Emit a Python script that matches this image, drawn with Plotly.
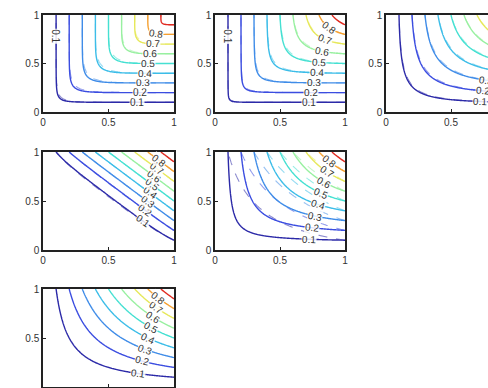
import numpy as np
import plotly.graph_objects as go

# ---- data ----
LEVELS = [0.1, 0.2, 0.3, 0.4, 0.5, 0.6, 0.7, 0.8, 0.9]
LABELLED = [0.1, 0.2, 0.3, 0.4, 0.5, 0.6, 0.7, 0.8]
LEVEL_COLORS = ["#2c2aa8", "#3b4de0", "#3f8ce8", "#3cbde8", "#45e0d2",
                "#98f0a0", "#e6e85a", "#f5a030", "#e02a20"]
FAMILIES = ["gumbel", "clayton", "frank", "frank", "clayton", "frank"]
THETA_MODEL = [5.0, 4.0, 3.0, -10.0, 0.6, 0.0]
THETA_EMP = [4.0, 3.5, 2.7, -9.0, -0.3, None]
TICKS = [0, 0.5, 1]
TICK_TEXT = ["0", "0.5", "1"]

# panel boxes in pixels: (left, right, top, bottom)
W, H = 488, 388
BOXES = [(43, 174, 15, 112), (215, 345, 15, 112), (386, 516, 15, 112),
         (43, 174, 152, 250), (215, 345, 152, 250),
         (43, 174, 289, 387)]

g = np.linspace(0, 1, 161)
U, V = np.meshgrid(g, g)


def copula(fam, th, u, v):
    u = np.clip(u, 1e-9, 1.0)
    v = np.clip(v, 1e-9, 1.0)
    if fam == "gumbel":
        return np.exp(-(((-np.log(u)) ** th + (-np.log(v)) ** th) ** (1.0 / th)))
    if fam == "clayton":
        if abs(th) < 1e-9:
            return u * v
        return np.maximum(u ** (-th) + v ** (-th) - 1.0, 1e-12) ** (-1.0 / th)
    if fam == "frank":
        if abs(th) < 1e-9:
            return u * v
        return -1.0 / th * np.log(1 + (np.exp(-th * u) - 1) * (np.exp(-th * v) - 1) / (np.exp(-th) - 1))
    return u * v


def on_level(fam, th, c, a, b, horizontal=None):
    """point of the level curve C=c on the line u = a + b*v (or v = horizontal)"""
    lo, hi = 0.0, 1.0
    for _ in range(60):
        m = 0.5 * (lo + hi)
        if horizontal is None:
            val = copula(fam, th, a + b * m, m)
        else:
            val = copula(fam, th, m, horizontal)
        if val < c:
            lo = m
        else:
            hi = m
    if horizontal is None:
        return a + b * lo, lo
    return lo, horizontal


def angle_at(fam, th, u, v, sx, sy):
    e = 1e-4
    cu = (copula(fam, th, min(u + e, 1), v) - copula(fam, th, max(u - e, 0), v)) / (2 * e)
    cv = (copula(fam, th, u, min(v + e, 1)) - copula(fam, th, u, max(v - e, 0))) / (2 * e)
    dx, dy = -cv * sx, -cu * sy  # screen coords (y down)
    ang = np.degrees(np.arctan2(dy, dx))
    while ang > 90:
        ang -= 180
    while ang <= -90:
        ang += 180
    return float(ang)


cscale = [[i / 8, c] for i, c in enumerate(LEVEL_COLORS)]
contours = dict(start=0.1, end=0.9, size=0.1, coloring="lines", showlabels=False)
label_font = dict(size=10, color="#333", family="Liberation Sans")

fig = go.Figure()
layout = {}
annotations = []
for i, (fam, tm, te, box) in enumerate(zip(FAMILIES, THETA_MODEL, THETA_EMP, BOXES)):
    k = "" if i == 0 else str(i + 1)
    xa, ya = "x" + k, "y" + k
    if te is not None:
        Ze = copula(fam, te, U, V)
        fig.add_trace(go.Contour(x=g, y=g, z=Ze, xaxis=xa, yaxis=ya,
                                 colorscale=cscale, zmin=0.1, zmax=0.9, showscale=False,
                                 contours=contours,
                                 line=dict(width=1.1, dash="dash"), opacity=0.55,
                                 hoverinfo="skip"))
    Zm = copula(fam, tm, U, V)
    fig.add_trace(go.Contour(x=g, y=g, z=Zm, xaxis=xa, yaxis=ya,
                             colorscale=cscale, zmin=0.1, zmax=0.9, showscale=False,
                             contours=contours,
                             line=dict(width=1.4), hoverinfo="skip"))
    l, r, t, b = box
    sx, sy = (r - l), (b - t)
    xr = [0, 1]
    x1 = r / W
    if i == 2:
        xr = [0, (W - l) / sx]
        x1 = 1.0
    ax_common = dict(showgrid=False, zeroline=False, showline=True, linecolor="#222",
                     linewidth=1.5, ticks="inside", ticklen=3, tickcolor="#222",
                     tickvals=TICKS, ticktext=TICK_TEXT, automargin=False,
                     tickfont=dict(size=10, color="#333", family="Liberation Sans"))
    layout["xaxis" + k] = dict(ax_common, domain=[l / W, x1], range=xr,
                               anchor=ya, mirror=True)
    layout["yaxis" + k] = dict(ax_common, domain=[(H - b) / H, (H - t) / H], range=[0, 1],
                               anchor=xa, mirror=(i != 2))

    # inline contour labels along a steep line near the right edge
    for c in LABELLED:
        u0, v0 = on_level(fam, tm, c, 0.70, 0.2)
        ang = angle_at(fam, tm, u0, v0, sx, sy)
        annotations.append(dict(x=u0, y=v0, xref=xa, yref=ya, text=str(c),
                                showarrow=False, textangle=ang, font=label_font,
                                bgcolor="rgba(255,255,255,0.85)", borderpad=0))
    if fam in ("gumbel",) or (fam == "clayton" and tm > 2):
        u0, v0 = on_level(fam, tm, 0.1, 0, 0, horizontal=0.78)
        annotations.append(dict(x=u0, y=v0, xref=xa, yref=ya, text="0.1",
                                showarrow=False, textangle=90, font=label_font,
                                bgcolor="rgba(255,255,255,0.85)", borderpad=0))

fig.update_layout(width=W, height=H, margin=dict(l=0, r=0, t=0, b=0),
                  paper_bgcolor="white", plot_bgcolor="white", showlegend=False,
                  annotations=annotations, **layout)
fig.write_html("out.html")
